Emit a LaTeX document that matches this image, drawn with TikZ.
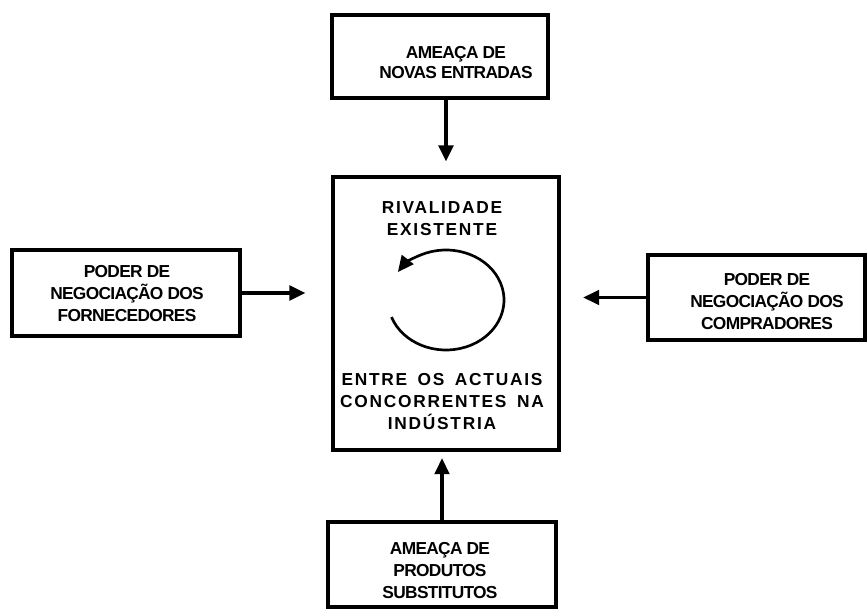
\documentclass[tikz,border=0pt]{standalone}
\usepackage{fontspec}
\setmainfont{Liberation Sans}
\newfontfamily\boxfont[LetterSpace=-4]{Liberation Sans Bold}
\newfontfamily\corefont[LetterSpace=10,WordSpace=1.6]{Liberation Sans Bold}
\usetikzlibrary{arrows.meta,fit}
\begin{document}
\begin{tikzpicture}[x=0.75pt,y=-0.75pt,
  frame/.style={draw, line width=2.3pt, inner sep=0pt, rectangle},
  lbl/.style={align=center, inner sep=0pt, font=\boxfont\fontsize{13pt}{16.5pt}\selectfont},
  corelbl/.style={align=center, inner sep=0pt, font=\corefont\fontsize{13pt}{16.5pt}\selectfont},
  arr/.style={line width=2.3pt, -{Triangle[length=12pt,width=11pt]}}]
\useasboundingbox (0,0) rectangle (868,609);

% corner points of the five boxes
\coordinate (ta) at (332,15);  \coordinate (tb) at (548,98);
\coordinate (la) at (12,250);  \coordinate (lb) at (240,336);
\coordinate (ra) at (648,255); \coordinate (rb) at (865,340);
\coordinate (ba) at (328,522); \coordinate (bb) at (556,607);
\coordinate (ca) at (333,177); \coordinate (cb) at (559,450);

\node[frame, fit=(ta)(tb)] (top) {};
\node[frame, fit=(la)(lb)] (lft) {};
\node[frame, fit=(ra)(rb)] (rgt) {};
\node[frame, fit=(ba)(bb)] (bot) {};
\node[frame, fit=(ca)(cb)] (core) {};

% labels
\node[lbl, font=\boxfont\fontsize{13pt}{15pt}\selectfont] (toptxt) at (456,63) {AMEAÇA DE\\NOVAS ENTRADAS};
\node[lbl] (lfttxt) at (127,294) {PODER DE\\NEGOCIAÇÃO DOS\\FORNECEDORES};
\node[lbl] (rgttxt) at (767,302) {PODER DE\\NEGOCIAÇÃO DOS\\COMPRADORES};
\node[lbl] (bottxt) at (440,571) {AMEAÇA DE\\PRODUTOS\\SUBSTITUTOS};
\node[corelbl] (coretop) at (442,219) {RIVALIDADE\\EXISTENTE};
\node[corelbl] (corebot) at (442,402) {ENTRE OS ACTUAIS\\CONCORRENTES NA\\INDÚSTRIA};

% forces acting on the industry
\draw[arr, shorten >=10.5pt] (top.south -| core.north) -- (core.north);
\draw[arr, shorten >=5pt] (bot.north) -- (bot.north |- core.south);
\draw[arr, shorten >=19.5pt] (lft.east) -- (lft.east -| core.west);
\draw[arr, shorten >=17pt] (rgt.west) -- (rgt.west -| core.east);

% rivalry cycle
\coordinate (rc) at (446,300);
\draw[arr, line width=2pt] ([shift={(200:43.5pt and 37.5pt)}]rc) arc[start angle=200, end angle=506, x radius=43.5pt, y radius=37.5pt];
\end{tikzpicture}
\end{document}
